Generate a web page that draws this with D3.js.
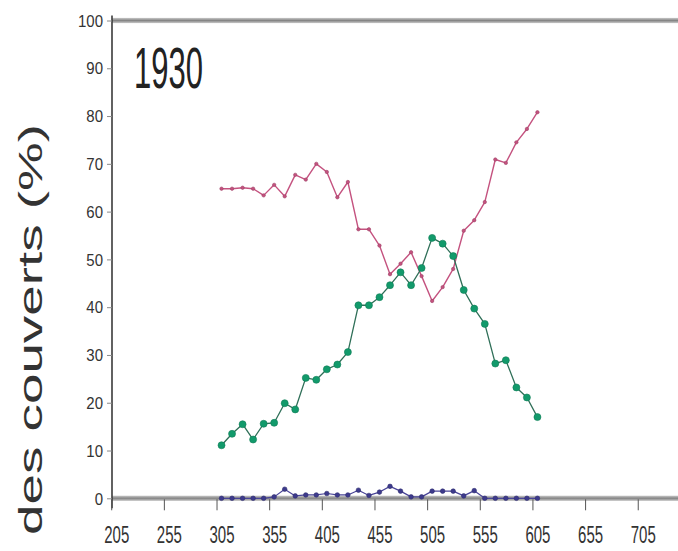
<!DOCTYPE html>
<html>
<head>
<meta charset="utf-8">
<script src="https://cdn.jsdelivr.net/npm/d3@7"></script>
<style>
  html, body { margin: 0; padding: 0; background: #fff; }
  svg { display: block; font-family: "Liberation Sans", Arial, Helvetica, sans-serif; }
</style>
</head>
<body>
<svg id="chart" width="678" height="551"></svg>
<script>
// Distance classes along the transect
const distances = [305, 315, 325, 335, 345, 355, 365, 375, 385, 395, 405, 415, 425, 435, 445,
                   455, 465, 475, 485, 495, 505, 515, 525, 535, 545, 555, 565, 575, 585, 595, 605];

// Cover shares (%) for the three cover types
const pinkSeries  = [64.8, 64.8, 65.0, 64.8, 63.4, 65.6, 63.2, 67.7, 66.7, 70.0, 68.3, 63.0, 66.2, 56.3, 56.3,
                     52.9, 46.9, 49.1, 51.5, 46.5, 41.3, 44.2, 48.0, 56.0, 58.2, 62.0, 70.9, 70.2, 74.5, 77.3, 80.8];
const greenSeries = [11.1, 13.5, 15.5, 12.3, 15.6, 15.8, 19.9, 18.6, 25.2, 24.8, 27.0, 28.0, 30.6, 40.4, 40.4,
                     42.1, 44.6, 47.3, 44.6, 48.2, 54.5, 53.3, 50.7, 43.6, 39.7, 36.5, 28.2, 28.9, 23.2, 21.1, 17.0];
const blueSeries  = [0, 0, 0, 0, 0, 0.3, 1.9, 0.5, 0.7, 0.7, 1.0, 0.7, 0.7, 1.7, 0.6,
                     1.3, 2.5, 1.5, 0.3, 0.3, 1.5, 1.5, 1.5, 0.5, 1.6, 0, 0, 0, 0, 0, 0];

const xTicks = [205, 255, 305, 355, 405, 455, 505, 555, 605, 655, 705];
const yTicks = [0, 10, 20, 30, 40, 50, 60, 70, 80, 90, 100];
const yearLabel = "1930";
const yTitle = "des couverts (%)";

const svg = d3.select("#chart");

const x = d3.scaleLinear().domain([201, 740]).range([112, 679.6]);
const y = d3.scaleLinear().domain([0, 100]).range([498.3, 20.5]);

// Reference lines at 0 % and 100 %
const refGrad = svg.append("defs").append("linearGradient")
  .attr("id", "refline").attr("x1", 0).attr("x2", 0).attr("y1", 0).attr("y2", 1);
refGrad.append("stop").attr("offset", "0%").attr("stop-color", "#c8c8c8");
refGrad.append("stop").attr("offset", "50%").attr("stop-color", "#858585");
refGrad.append("stop").attr("offset", "100%").attr("stop-color", "#c8c8c8");

[0, 100].forEach(v => {
  svg.append("rect")
    .attr("x", x(201)).attr("width", 678 - x(201))
    .attr("y", y(v) - 2.6).attr("height", 5.2)
    .attr("fill", "url(#refline)");
});

// Y axis
const yAxis = svg.append("g")
  .attr("transform", `translate(${x(201)},0)`)
  .call(d3.axisLeft(y).tickValues(yTicks).tickSize(5).tickPadding(4));
yAxis.select(".domain").attr("stroke", "#3a3a3a").attr("stroke-width", 1.6)
  .attr("d", `M0,${y(100) - 5}V${y(0) + 10}`);
yAxis.selectAll(".tick line").attr("stroke", "#8a8a8a");
yAxis.selectAll(".tick text")
  .attr("fill", "#333").attr("font-size", 15)
  .attr("dy", "0.33em")
  .attr("transform", "scale(1,1.15)");

// X axis (ticks and labels below the 0 % line)
const xAxis = svg.append("g")
  .attr("transform", `translate(0,${y(0) + 1})`)
  .call(d3.axisBottom(x).tickValues(xTicks).tickSize(11).tickPadding(6).tickFormat(d3.format("d")));
xAxis.select(".domain").remove();
xAxis.selectAll(".tick line").attr("stroke", "#555").attr("stroke-width", 1).attr("transform", "translate(-5,0)");
xAxis.selectAll(".tick text")
  .attr("fill", "#333").attr("font-size", 15)
  .attr("transform", "translate(0,1) scale(1,1.55)");

// Series
const series = [
  { values: pinkSeries,  line: "#c4527f", mark: "#c4527f", r: 1.7, width: 1.4 },
  { values: greenSeries, line: "#2f6f58", mark: "#129a6b", r: 3.5, width: 1.3 },
  { values: blueSeries,  line: "#4a4598", mark: "#3d3a8c", r: 2.3, width: 1.2 }
];

const lineGen = d3.line().x(d => x(d.d)).y(d => y(d.v));

series.forEach(s => {
  const pts = distances.map((d, i) => ({ d, v: s.values[i] }));
  svg.append("path").datum(pts)
    .attr("fill", "none").attr("stroke", s.line).attr("stroke-width", s.width)
    .attr("stroke-linejoin", "round").attr("d", lineGen);
  svg.append("g").selectAll("circle").data(pts).join("circle")
    .attr("cx", d => x(d.d)).attr("cy", d => y(d.v)).attr("r", s.r)
    .attr("fill", s.mark).attr("stroke", d3.color(s.mark).darker(0.6)).attr("stroke-width", 0.6);
});

// Year label
svg.append("text")
  .attr("transform", "translate(134,88) scale(1,1.85)")
  .attr("font-size", 31).attr("fill", "#222")
  .text(yearLabel);

// Y axis title (rotated, stretched along its length)
svg.append("text")
  .attr("transform", "translate(42,535) scale(1,1.66) rotate(-90)")
  .attr("font-size", 33).attr("fill", "#333")
  .text(yTitle);
</script>
</body>
</html>
